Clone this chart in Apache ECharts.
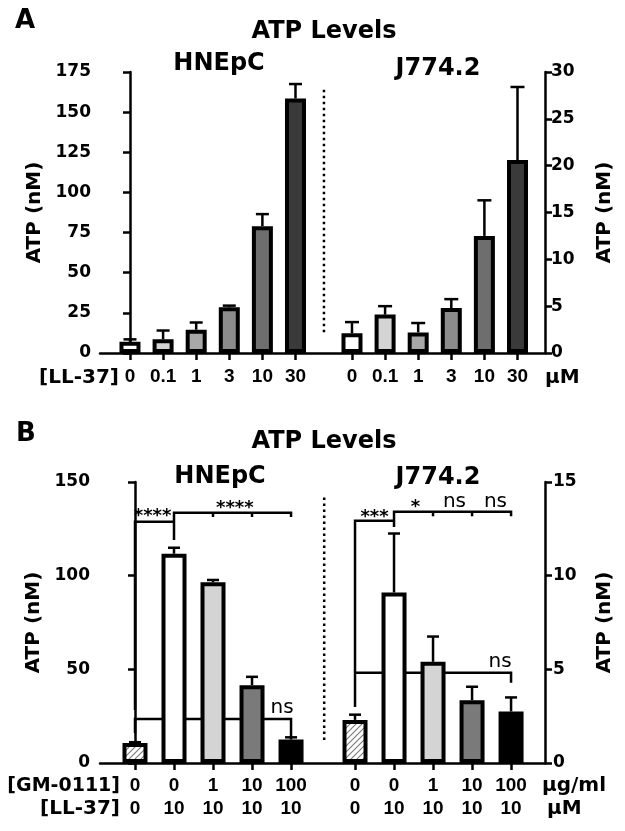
<!DOCTYPE html>
<html><head><meta charset="utf-8">
<script src="https://cdn.jsdelivr.net/npm/echarts@6/dist/echarts.min.js"></script>
<style>html,body{margin:0;padding:0;background:#fff}#c{width:625px;height:831px}</style>
</head><body><div id="c"></div>
<script>
// ---------- Panel A data ----------
const aConc = ['0', '0.1', '1', '3', '10', '30'];
const aHnepcMean = [7, 8.5, 14.5, 28.5, 79, 158.5];
const aHnepcErr  = [1.5, 5.5, 4.5, 1, 7.5, 9];
const aJ774Mean  = [2.1, 4.1, 2.2, 4.8, 12.5, 20.6];
const aJ774Err   = [1.2, 0.9, 1.0, 0.95, 3.8, 7.8];
const aLeftTicks  = [0, 25, 50, 75, 100, 125, 150, 175];
const aRightTicks = [0, 5, 10, 15, 20, 25, 30];

// ---------- Panel B data ----------
const bGM = ['0', '0', '1', '10', '100'];
const bLL = ['0', '10', '10', '10', '10'];
const bHnepcMean = [10.7, 111.7, 96.5, 41.5, 12.5];
const bHnepcErr  = [0.4, 3.2, 1.2, 4.5, 1.2];
const bJ774Mean  = [2.3, 9.1, 5.4, 3.35, 2.75];
const bJ774Err   = [0.28, 3.15, 1.35, 0.72, 0.75];
const bLeftTicks  = [0, 50, 100, 150];
const bRightTicks = [0, 5, 10, 15];

// ---------- styles / layout ----------
const aFills = ['#ffffff', '#d4d4d4', '#a8a8a8', '#8c8c8c', '#6e6e6e', '#3a3a3a'];
const hatch = (function () {
  const c = document.createElement('canvas'); c.width = 6; c.height = 6;
  const g = c.getContext('2d');
  g.fillStyle = '#fff'; g.fillRect(0, 0, 6, 6);
  g.strokeStyle = '#7a7a7a'; g.lineWidth = 1.1;
  g.beginPath();
  g.moveTo(-1, 7); g.lineTo(7, -1);
  g.moveTo(-1, 1); g.lineTo(1, -1);
  g.moveTo(5, 7); g.lineTo(7, 5);
  g.stroke();
  return c;
})();
const bFills = [{ image: hatch, repeat: 'repeat' }, '#ffffff', '#d4d4d4', '#7a7a7a', '#000000'];

const A_OFF = 6.707;   // position offset of J774.2 group on the shared x scale
const B_OFF = 5.64;
const aPosL = aConc.map((_, i) => i);
const aPosR = aConc.map((_, i) => i + A_OFF);
const bPosL = bGM.map((_, i) => i);
const bPosR = bGM.map((_, i) => i + B_OFF);

const NUM_FONT = 'DejaVu Sans';
const XFONT = 'Liberation Sans';

function nearestIdx(arr, v) {
  let k = -1, d = 1e9;
  arr.forEach((p, i) => { if (Math.abs(p - v) < d) { d = Math.abs(p - v); k = i; } });
  return d < 0.01 ? k : -1;
}

function barSeries(pos, mean, fills, xi, yi, w) {
  return {
    type: 'bar', xAxisIndex: xi, yAxisIndex: yi, barWidth: w, barGap: '-100%', z: 3,
    data: pos.map((p, i) => ({
      value: [p, mean[i]],
      itemStyle: { color: fills[i], borderColor: '#000', borderWidth: 4 }
    })),
    animation: false
  };
}
function errSeries(pos, mean, err, xi, yi, cap) {
  return {
    type: 'custom', xAxisIndex: xi, yAxisIndex: yi, z: 4, animation: false,
    data: pos.map((p, i) => [p, mean[i] + err[i]]),
    renderItem: function (params, api) {
      const i = params.dataIndex;
      const p0 = api.coord([pos[i], mean[i]]);
      const p1 = api.coord([pos[i], mean[i] + err[i]]);
      const st = { stroke: '#000', lineWidth: 2.5 };
      return { type: 'group', children: [
        { type: 'line', shape: { x1: p0[0], y1: p0[1], x2: p1[0], y2: p1[1] }, style: st },
        { type: 'line', shape: { x1: p1[0] - cap, y1: p1[1], x2: p1[0] + cap, y2: p1[1] }, style: st }
      ]};
    }
  };
}
// annotation polylines, in data units of the given axes
function lineSeries(lines, xi, yi, dash) {
  return {
    type: 'custom', xAxisIndex: xi, yAxisIndex: yi, z: 1, animation: false, silent: true,
    data: lines.map((_, i) => [i]),
    renderItem: function (params, api) {
      const pts = lines[params.dataIndex].map(p => api.coord(p));
      return { type: 'polyline', shape: { points: pts },
        style: { stroke: '#000', lineWidth: 2.5, fill: null, lineDash: dash || null } };
    }
  };
}
function textSeries(items, xi, yi) {
  return {
    type: 'custom', xAxisIndex: xi, yAxisIndex: yi, z: 5, animation: false, silent: true,
    data: items.map((_, i) => [i]),
    renderItem: function (params, api) {
      const it = items[params.dataIndex];
      const p = api.coord([it.x, it.y]);
      return { type: 'text', x: p[0], y: p[1],
        style: { text: it.t, fill: '#000', font: it.f, textAlign: 'center', textVerticalAlign: 'middle' } };
    }
  };
}

// significance brackets (data units)
const bLeftLines = [
  [[0, 28.3], [0, 128.8], [1, 128.8]],
  [[1, 119], [1, 133.6], [4, 133.6], [4, 131.3]],
  [[2, 133.6], [2, 131.3]], [[3, 133.6], [3, 131.3]],
  [[0, 16], [0, 23.5], [4, 23.5], [4, 13.9]]
];
const bRightLines = [
  [[B_OFF, 2.99], [B_OFF, 12.93], [B_OFF + 1, 12.93]],
  [[B_OFF + 1, 12.6], [B_OFF + 1, 13.41], [B_OFF + 4, 13.41], [B_OFF + 4, 13.17]],
  [[B_OFF + 2, 13.41], [B_OFF + 2, 13.17]], [[B_OFF + 3, 13.41], [B_OFF + 3, 13.17]],
  [[B_OFF, 4.82], [B_OFF + 4, 4.82], [B_OFF + 4, 4.28]]
];
const STAR = 'bold 18px DejaVu Sans';
const NS = '20px DejaVu Sans';
const bLeftTexts = [
  { t: '****', x: 0.45, y: 131.5, f: STAR },
  { t: '****', x: 2.56, y: 136, f: STAR },
  { t: 'ns', x: 3.77, y: 29.4, f: NS }
];
const bRightTexts = [
  { t: '***', x: B_OFF + 0.5, y: 13.1, f: STAR },
  { t: '*', x: B_OFF + 1.55, y: 13.65, f: STAR },
  { t: 'ns', x: B_OFF + 2.55, y: 13.95, f: NS },
  { t: 'ns', x: B_OFF + 3.6, y: 13.95, f: NS },
  { t: 'ns', x: B_OFF + 3.72, y: 5.41, f: NS }
];
const aSep = [[[5.86, 13], [5.86, 166]]];
const bSep = [[[4.85, 12.3], [4.85, 142]]];

const axisLineStyle = { color: '#000', width: 2.5 };

function xAxisDef(gi, min, max, vals, fmt, margin, lh) {
  return {
    type: 'value', gridIndex: gi, min: min, max: max,
    axisLine: { show: true, onZero: false, lineStyle: axisLineStyle },
    axisTick: { show: true, customValues: vals, length: 7, lineStyle: { color: '#000', width: 2.5 } },
    axisLabel: { show: true, customValues: vals, formatter: fmt, margin: margin, color: '#000',
      fontFamily: XFONT, fontWeight: 'bold', fontSize: 19, lineHeight: lh },
    splitLine: { show: false }
  };
}
function yAxisDef(gi, pos, ticks, margin, gap) {
  return {
    type: 'value', gridIndex: gi, position: pos, min: ticks[0], max: ticks[ticks.length - 1],
    interval: ticks[1] - ticks[0],
    name: 'ATP (nM)', nameLocation: 'middle', nameGap: gap, nameRotate: 90,
    nameTextStyle: { fontFamily: NUM_FONT, fontWeight: 'bold', fontSize: 20, color: '#000' },
    axisLine: { show: true, lineStyle: axisLineStyle },
    axisTick: { show: true, length: 7, lineStyle: { color: '#000', width: 2.5 } },
    axisLabel: { margin: margin, color: '#000', fontFamily: NUM_FONT, fontWeight: 'bold', fontSize: 17 },
    splitLine: { show: false }
  };
}

const aAllPos = aPosL.concat(aPosR);
const bAllPos = bPosL.concat(bPosR);
const aFmt = v => { const k = nearestIdx(aAllPos, v); return k < 0 ? '' : aConc[k % aConc.length]; };
const bFmt = v => { const k = nearestIdx(bAllPos, v); if (k < 0) return ''; const j = k % bGM.length; return bGM[j] + '\n' + bLL[j]; };

function txt(t, x, y, size, align, weight) {
  return { type: 'text', x: x, y: y, style: { text: t, fill: '#000', textAlign: align || 'center', textVerticalAlign: 'middle',
    font: (weight || 'bold') + ' ' + size + 'px ' + NUM_FONT } };
}

const option = {
  backgroundColor: '#fff',
  animation: false,
  grid: [
    { left: 100, right: 80, top: 72, bottom: 831 - 353 },
    { left: 100, right: 80, top: 482, bottom: 831 - 763 }
  ],
  xAxis: [
    xAxisDef(0, -0.906, 12.538, aAllPos, aFmt, 14, 20),
    xAxisDef(1, -0.897, 10.51, bAllPos, bFmt, 11.5, 23)
  ],
  yAxis: [
    yAxisDef(0, 'left', aLeftTicks, 9, 48),
    yAxisDef(0, 'right', aRightTicks, 6, 50),
    yAxisDef(1, 'left', bLeftTicks, 10, 48),
    yAxisDef(1, 'right', bRightTicks, 8, 50)
  ],
  series: [
    barSeries(aPosL, aHnepcMean, aFills, 0, 0, 21),
    barSeries(aPosR, aJ774Mean, aFills, 0, 1, 21),
    errSeries(aPosL, aHnepcMean, aHnepcErr, 0, 0, 6.5),
    errSeries(aPosR, aJ774Mean, aJ774Err, 0, 1, 7),
    lineSeries(aSep, 0, 0, [2.5, 3.5]),
    barSeries(bPosL, bHnepcMean, bFills, 1, 2, 25),
    barSeries(bPosR, bJ774Mean, bFills, 1, 3, 25),
    errSeries(bPosL, bHnepcMean, bHnepcErr, 1, 2, 6),
    errSeries(bPosR, bJ774Mean, bJ774Err, 1, 3, 6),
    lineSeries(bSep, 1, 2, [2.5, 3.5]),
    lineSeries(bLeftLines, 1, 2),
    lineSeries(bRightLines, 1, 3),
    textSeries(bLeftTexts, 1, 2),
    textSeries(bRightTexts, 1, 3)
  ],
  graphic: [
    txt('A', 15, 21, 26, 'left'),
    txt('ATP Levels', 324, 32, 24),
    txt('HNEpC', 219, 64, 24),
    txt('J774.2', 438, 69, 24),
    txt('[LL-37]', 119, 378, 20, 'right'),
    txt('μM', 545, 378, 20, 'left'),
    txt('B', 16, 434, 26, 'left'),
    txt('ATP Levels', 324, 442, 24),
    txt('HNEpC', 220, 477, 24),
    txt('J774.2', 438, 478, 24),
    txt('[GM-0111]', 120, 786, 19, 'right'),
    txt('[LL-37]', 120, 809, 20, 'right'),
    txt('μg/ml', 542, 786, 20, 'left'),
    txt('μM', 547, 809, 20, 'left')
  ]
};
const chart = echarts.init(document.getElementById('c'), null, { renderer: 'canvas' });
chart.setOption(option);
</script></body></html>
